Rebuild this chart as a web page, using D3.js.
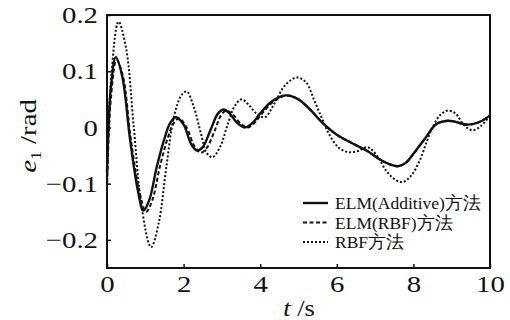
<!DOCTYPE html>
<html>
<head>
<meta charset="utf-8">
<script src="https://cdn.jsdelivr.net/npm/d3@7"></script>
</head>
<body style="margin:0">
<script>
// series: time (s) and error e1 (rad)
var additiveT = [0, 0.1, 0.23, 0.4, 0.6, 0.8, 0.95, 1.1, 1.3, 1.5, 1.65, 1.8, 2.0, 2.2, 2.35, 2.5, 2.7, 2.9, 3.05, 3.2, 3.4, 3.6, 3.8, 4.0, 4.3, 4.65, 5.0, 5.3, 5.6, 6.0, 6.4, 6.8, 7.1, 7.4, 7.6, 7.8, 8.0, 8.3, 8.6, 8.9, 9.1, 9.4, 9.7, 10];
var additiveE = [-0.08, 0.07, 0.125, 0.09, -0.02, -0.11, -0.148, -0.13, -0.07, -0.02, 0.008, 0.018, 0.005, -0.03, -0.041, -0.035, -0.005, 0.025, 0.032, 0.025, 0.008, 0.0, 0.008, 0.025, 0.046, 0.057, 0.05, 0.032, 0.01, -0.013, -0.028, -0.042, -0.056, -0.066, -0.069, -0.063, -0.047, -0.02, 0.006, 0.012, 0.01, 0.005, 0.009, 0.021];

var elmRbfT = [0, 0.1, 0.25, 0.42, 0.62, 0.85, 1.02, 1.18, 1.38, 1.58, 1.73, 1.88, 2.08, 2.28, 2.45, 2.6, 2.8, 2.98, 3.12, 3.3, 3.5, 3.68, 3.85, 4.05, 4.35, 4.7, 5.0, 5.3, 5.6, 6.0, 6.4, 6.8, 7.1, 7.4, 7.6, 7.8, 8.0, 8.3, 8.6, 8.9, 9.1, 9.4, 9.7, 10];
var elmRbfE = [-0.11, 0.05, 0.12, 0.09, -0.02, -0.115, -0.15, -0.13, -0.07, -0.02, 0.006, 0.016, 0.0, -0.033, -0.045, -0.037, -0.008, 0.022, 0.03, 0.022, 0.006, 0.0, 0.008, 0.025, 0.046, 0.057, 0.05, 0.032, 0.01, -0.013, -0.028, -0.042, -0.056, -0.066, -0.069, -0.063, -0.047, -0.02, 0.006, 0.012, 0.01, 0.005, 0.009, 0.021];

var rbfT = [0, 0.1, 0.3, 0.5, 0.7, 0.9, 1.15, 1.35, 1.55, 1.75, 1.95, 2.08, 2.25, 2.45, 2.6, 2.75, 2.95, 3.15, 3.35, 3.52, 3.7, 3.9, 4.12, 4.35, 4.65, 4.96, 5.2, 5.4, 5.6, 5.8, 6.05, 6.3, 6.55, 6.8, 7.05, 7.3, 7.55, 7.73, 7.95, 8.17, 8.35, 8.5, 8.7, 8.9, 9.1, 9.3, 9.53, 9.75, 10];
var rbfE = [-0.1, 0.08, 0.188, 0.14, 0.0, -0.14, -0.213, -0.17, -0.07, 0.02, 0.058, 0.064, 0.04, -0.01, -0.045, -0.053, -0.035, 0.005, 0.04, 0.05, 0.04, 0.025, 0.018, 0.04, 0.075, 0.089, 0.08, 0.05, 0.018, -0.012, -0.036, -0.044, -0.042, -0.035, -0.05, -0.078, -0.094, -0.097, -0.085, -0.058, -0.025, 0.0, 0.022, 0.03, 0.025, 0.006, -0.005, 0.002, 0.021];

var xTicks = [0, 2, 4, 6, 8, 10];
var yTicks = [-0.2, -0.1, 0, 0.1, 0.2];
var legendNames = ["ELM(Additive)方法", "ELM(RBF)方法", "RBF方法"];

var serif = "Liberation Serif";

var svgWidth = 510, svgHeight = 320;
var margin = { top: 15, right: 20, bottom: 52, left: 107 };
var width = svgWidth - margin.left - margin.right;
var height = svgHeight - margin.top - margin.bottom;

var svg = d3.select("body").append("svg")
    .attr("width", svgWidth)
    .attr("height", svgHeight);

var g = svg.append("g")
    .attr("transform", `translate(${margin.left}, ${margin.top})`);

var x = d3.scaleLinear().domain([0, 10]).range([0, width]);
var y = d3.scaleLinear().domain([-0.25, 0.2]).range([height, 0]);

// axes with inward ticks
var xAxis = g.append("g")
    .attr("transform", `translate(0, ${height})`)
    .call(d3.axisBottom(x).tickValues(xTicks).tickSize(-4).tickPadding(7).tickFormat(d3.format("d")));

var yAxis = g.append("g")
    .call(d3.axisLeft(y).tickValues(yTicks).tickSize(-4).tickPadding(7.5)
        .tickFormat(d => d === 0 ? "0" : d3.format(".1f")(d)));

// the printed labels are a bit wider than plain Times, stretch them sideways
[xAxis, yAxis].forEach(function (a) {
    a.attr("font-family", serif).attr("font-size", 24);
    a.select(".domain").remove();
    a.selectAll(".tick line").attr("stroke", "#111").attr("stroke-width", 1.5);
    a.selectAll(".tick text").attr("fill", "#111").attr("font-family", serif).attr("font-size", 24)
        .attr("transform", "scale(1.2,1)");
});

// frame
g.append("rect")
    .attr("width", width).attr("height", height)
    .attr("fill", "none").attr("stroke", "#111").attr("stroke-width", 2);

var line = d3.line()
    .x(d => x(d[0]))
    .y(d => y(d[1]))
    .curve(d3.curveCatmullRom.alpha(0.5));

var styles = [
    { dash: null, w: 2.4 },
    { dash: "4,2.5", w: 2 },
    { dash: "2,2", w: 2 }
];

var series = [
    d3.zip(additiveT, additiveE),
    d3.zip(elmRbfT, elmRbfE),
    d3.zip(rbfT, rbfE)
];

var plot = g.append("g");
// draw dotted first so solid is on top
[2, 1, 0].forEach(function (i) {
    plot.append("path")
        .datum(series[i])
        .attr("d", line)
        .attr("fill", "none")
        .attr("stroke", "#111")
        .attr("stroke-width", styles[i].w)
        .attr("stroke-dasharray", styles[i].dash);
});

// legend
var legend = svg.append("g").attr("transform", "translate(303, 203)");
legendNames.forEach(function (name, i) {
    var row = legend.append("g").attr("transform", `translate(0, ${i * 19.5})`);
    row.append("line")
        .attr("x1", 0).attr("x2", 25)
        .attr("stroke", "#111")
        .attr("stroke-width", styles[i].w)
        .attr("stroke-dasharray", styles[i].dash);
    row.append("text")
        .attr("x", 32).attr("dy", "0.35em")
        .attr("font-family", serif)
        .attr("font-size", 17.5)
        .attr("fill", "#111")
        .text(name);
});

// axis titles
var xTitle = svg.append("text")
    .attr("transform", "translate(299, 316) scale(1.1,1)")
    .attr("text-anchor", "middle")
    .attr("font-family", serif)
    .attr("font-size", 24)
    .attr("fill", "#111");
xTitle.append("tspan").attr("font-style", "italic").text("t");
xTitle.append("tspan").text(" /s");

var yTitle = svg.append("text")
    .attr("transform", "translate(36, 136) rotate(-90) scale(1.2,1)")
    .attr("text-anchor", "middle")
    .attr("font-family", serif)
    .attr("font-size", 24)
    .attr("fill", "#111");
yTitle.append("tspan").attr("font-style", "italic").text("e");
yTitle.append("tspan").attr("font-size", 15).attr("dy", 5).text("1");
yTitle.append("tspan").attr("dy", -5).text(" /rad");
</script>
</body>
</html>
